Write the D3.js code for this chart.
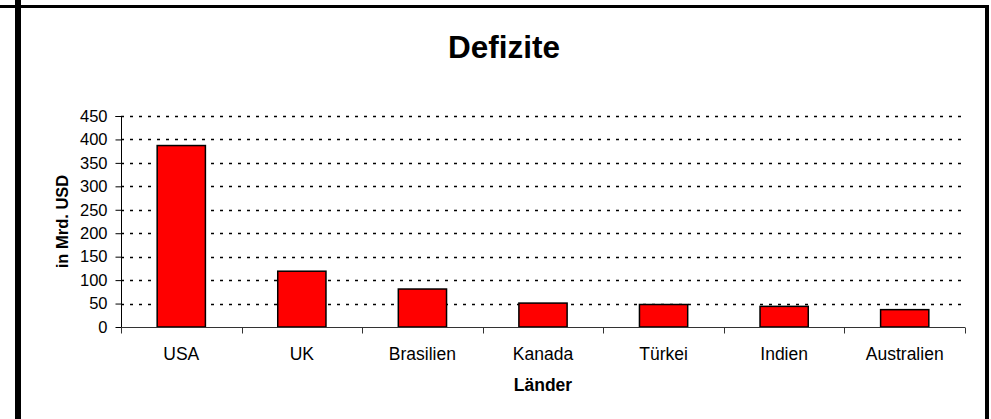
<!DOCTYPE html>
<html>
<head>
<meta charset="utf-8">
<script src="https://cdn.jsdelivr.net/npm/d3@7"></script>
<style>
  body { margin: 0; background: #fff; }
  svg { display: block; font-family: "Liberation Sans", Arial, sans-serif; }
</style>
</head>
<body>
<script>
// Chart data
const countries = ["USA", "UK", "Brasilien", "Kanada", "Türkei", "Indien", "Australien"];
const deficits = [387, 119, 81, 51, 48, 44, 37];
const yTicks = [0, 50, 100, 150, 200, 250, 300, 350, 400, 450];

const width = 991;
const height = 419;
const plot = {left: 121, right: 965, top: 116, bottom: 327};

const svg = d3.select("body").append("svg").attr("width", width).attr("height", height);

// frame lines (chart border cropped on the left)
svg.append("rect").attr("x", 0).attr("y", 5).attr("width", 989).attr("height", 3).attr("fill", "#000");
svg.append("rect").attr("x", 15).attr("y", 0).attr("width", 6).attr("height", height).attr("fill", "#000");
svg.append("rect").attr("x", 985).attr("y", 5).attr("width", 4).attr("height", height).attr("fill", "#000");

// scales
const x = d3.scaleBand().domain(countries).range([plot.left, plot.right]).paddingInner(0.6).paddingOuter(0.3);
const xEdges = d3.scaleLinear().domain([0, countries.length]).range([plot.left, plot.right]);
const y = d3.scaleLinear().domain([0, 450]).range([plot.bottom, plot.top]);

// dotted gridlines
svg.append("g").selectAll("line")
  .data(yTicks.filter(d => d > 0))
  .enter()
  .append("line")
  .attr("x1", plot.left)
  .attr("x2", plot.right)
  .attr("y1", d => Math.round(y(d)) + 0.5)
  .attr("y2", d => Math.round(y(d)) + 0.5)
  .attr("stroke", "#000")
  .attr("stroke-width", 1.3)
  .attr("stroke-dasharray", "3,6");

// bars
svg.append("g").selectAll("rect")
  .data(countries)
  .enter()
  .append("rect")
  .attr("x", d => x(d))
  .attr("y", (d, i) => y(deficits[i]))
  .attr("width", x.bandwidth())
  .attr("height", (d, i) => y(0) - y(deficits[i]))
  .attr("fill", "#ff0000")
  .attr("stroke", "#000")
  .attr("stroke-width", 1.5);

// y axis
const yAxis = d3.axisLeft(y).tickValues(yTicks).tickSize(6).tickPadding(8);
const gy = svg.append("g")
  .attr("transform", "translate(" + (plot.left + 0.5) + ",0)")
  .call(yAxis);
gy.selectAll("text").attr("font-size", "16.5px").attr("fill", "#000").attr("font-family", "Liberation Sans, Arial, sans-serif");
gy.selectAll("line").attr("stroke", "#000");
gy.select(".domain").attr("stroke", "#000").attr("d", "M-6," + (plot.top + 0.5) + "H0V" + (plot.bottom + 6));

// x axis: tick marks at category boundaries
const xAxis = d3.axisBottom(xEdges).tickValues(d3.range(countries.length + 1)).tickSize(6).tickFormat("");
const gx = svg.append("g")
  .attr("transform", "translate(0," + (plot.bottom + 0.5) + ")")
  .call(xAxis);
gx.select(".domain").attr("stroke", "#333").attr("d", "M" + plot.left + ",0H" + plot.right);
gx.selectAll("line").attr("stroke", "#333");
gx.selectAll(".tick").attr("transform", d => "translate(" + (Math.round(xEdges(d)) + 0.5) + ",0)");

// category labels
svg.append("g").selectAll("text")
  .data(countries)
  .enter()
  .append("text")
  .attr("x", d => x(d) + x.bandwidth() / 2)
  .attr("y", 360)
  .attr("text-anchor", "middle")
  .attr("font-size", "17.5px")
  .text(d => d);

// titles
svg.append("text")
  .attr("x", 504).attr("y", 58)
  .attr("text-anchor", "middle")
  .attr("font-size", "31.5px")
  .attr("font-weight", "bold")
  .text("Defizite");

svg.append("text")
  .attr("x", 543).attr("y", 390.5)
  .attr("text-anchor", "middle")
  .attr("font-size", "17.5px")
  .attr("font-weight", "bold")
  .text("Länder");

svg.append("text")
  .attr("transform", "translate(68," + ((plot.top + plot.bottom) / 2) + ") rotate(-90)")
  .attr("text-anchor", "middle")
  .attr("font-size", "16.5px")
  .attr("font-weight", "bold")
  .text("in Mrd. USD");
</script>
</body>
</html>
